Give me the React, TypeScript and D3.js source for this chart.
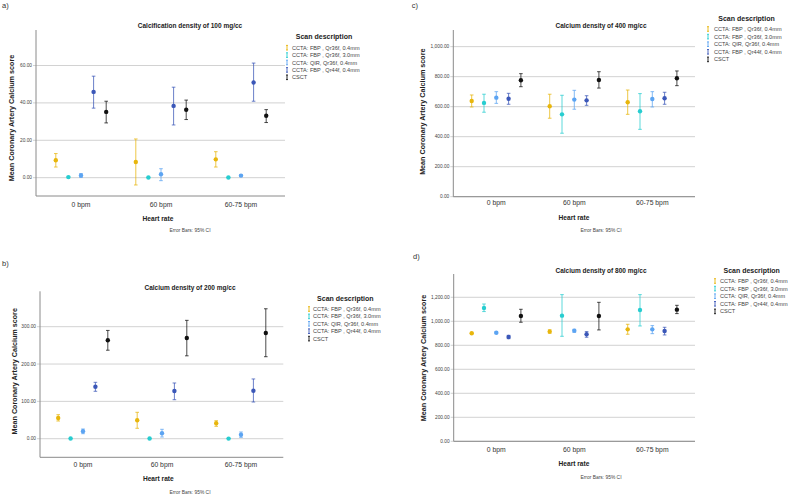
import React from "react";
import * as d3 from "d3";

const categories = ["0 bpm", "60 bpm", "60-75 bpm"];
const seriesNames = [
  "CCTA: FBP , Qr36f, 0.4mm",
  "CCTA: FBP , Qr36f, 3.0mm",
  "CCTA: QIR, Qr36f, 0.4mm",
  "CCTA: FBP , Qr44f, 0.4mm",
  "CSCT",
];
const seriesColors = ["#e8b60c", "#27cdd0", "#5ca4f2", "#3b57b8", "#111111"];

// Panel a: 100 mg/cc  [series][category]
const mean100 = [[9.3, 8.4, 9.8], [0.3, 0.1, 0.1], [1.2, 1.8, 1.1], [45.9, 38.4, 50.9], [35.2, 36.3, 33.1]];
const low100 = [[5.7, -3.9, 5.7], [0.0, 0.0, 0.0], [0.2, -1.6, 0.6], [37.2, 28.2, 40.9], [29.3, 31.1, 29.5]];
const high100 = [[12.9, 20.7, 13.9], [0.5, 0.3, 0.3], [2.2, 4.8, 1.6], [54.3, 48.4, 61.3], [40.9, 41.5, 36.4]];
const ticks100 = [0, 20, 40, 60];

// Panel b: 200 mg/cc
const mean200 = [[55.4, 49.3, 41.2], [0.5, 0.5, 0.3], [19.8, 14.5, 10.7], [139.3, 127.8, 128.6], [263.6, 269.8, 283]];
const low200 = [[47.4, 27.9, 33.2], [0, 0, 0], [13.4, 4.5, 3.6], [127, 104.5, 98.3], [237, 222, 219.6]];
const high200 = [[64.3, 70.7, 48.2], [1, 1, 0.6], [26, 25.2, 18], [151, 149.2, 160], [290, 317, 348]];
const ticks200 = [0, 100, 200, 300];

// Panel c: 400 mg/cc
const mean400 = [[638, 603, 629], [625, 549, 569], [660, 647, 651], [653, 642, 656], [776, 778, 789]];
const low400 = [[598, 523, 549], [563, 423, 449], [622, 583, 598], [616, 609, 616], [733, 724, 740]];
const high400 = [[678, 683, 711], [683, 676, 687], [700, 709, 700], [689, 673, 696], [820, 833, 838]];
const ticks400 = [0, 200, 400, 600, 800, 1000];

// Panel d: 800 mg/cc
const mean800 = [[900, 914, 933], [1111, 1047, 1094], [905, 922, 933], [869, 892, 919], [1044, 1044, 1097]];
const low800 = [[895, 900, 892], [1081, 875, 961], [898, 908, 897], [855, 867, 886], [992, 928, 1064]];
const high800 = [[905, 930, 975], [1144, 1222, 1222], [912, 933, 964], [883, 914, 950], [1100, 1158, 1133]];
const ticks800 = [0, 200, 400, 600, 800, 1000, 1200];

const FONT = "'Liberation Sans', Arial, sans-serif";
const fmt = d3.format(",.2f");

type Layout = {
  tag: string; tagX: number; tagY: number;
  title: string; titleX: number; titleY: number;
  left: number; right: number; top: number; bottom: number;
  domain: [number, number];
  bandLeft: number; bandRight: number; spacing: number;
  xLabY: number; hrX: number; hrY: number; ebX: number; ebY: number;
  yTitleX: number; yTitleY: number;
  legTitleX: number; legTitleY: number; legIconX: number; legTextX: number; legY0: number; legDy: number;
};

function Panel({ L, mean, low, high, ticks }: { L: Layout; mean: number[][]; low: number[][]; high: number[][]; ticks: number[] }) {
  const y = d3.scaleLinear().domain(L.domain).range([L.bottom, L.top]);
  const x = d3.scaleBand<string>().domain(categories).range([L.bandLeft, L.bandRight]);
  const inner = d3
    .scaleBand<string>()
    .domain(seriesNames)
    .range([-2.5 * L.spacing, 2.5 * L.spacing]);
  const cx = (ci: number, si: number) =>
    (x(categories[ci]) as number) + x.bandwidth() / 2 + (inner(seriesNames[si]) as number) + inner.bandwidth() / 2;
  return (
    <g>
      <text x={L.tagX} y={L.tagY} fontSize={7.5} fill="#333" dominantBaseline="central">{L.tag}</text>
      <text x={L.titleX} y={L.titleY} fontSize={6.5} fontWeight="bold" textAnchor="middle" dominantBaseline="central" fill="#222">{L.title}</text>
      {ticks.map((t) => (
        <g key={t}>
          <line x1={L.left - 3} x2={L.right} y1={y(t)} y2={y(t)} stroke="#d2d2d2" strokeWidth={1} />
          <text x={L.left - 4} y={y(t)} fontSize={4.8} textAnchor="end" dominantBaseline="central" fill="#444">{fmt(t)}</text>
        </g>
      ))}
      <line x1={L.left} x2={L.left} y1={L.top} y2={L.bottom} stroke="#8a8a8a" strokeWidth={1} />
      <line x1={L.left} x2={L.right} y1={L.bottom} y2={L.bottom} stroke="#8a8a8a" strokeWidth={1} />
      {categories.map((c) => (
        <text key={c} x={(x(c) as number) + x.bandwidth() / 2} y={L.xLabY} fontSize={6.8} textAnchor="middle" dominantBaseline="central" fill="#333">{c}</text>
      ))}
      <text x={L.hrX} y={L.hrY} fontSize={6.6} fontWeight="bold" textAnchor="middle" dominantBaseline="central" fill="#222">Heart rate</text>
      <text x={L.ebX} y={L.ebY} fontSize={4.9} textAnchor="middle" dominantBaseline="central" fill="#444">Error Bars: 95% CI</text>
      <text transform={`translate(${L.yTitleX},${L.yTitleY}) rotate(-90)`} fontSize={7.2} fontWeight="bold" textAnchor="middle" dominantBaseline="central" fill="#222">Mean Coronary Artery Calcium score</text>
      {seriesNames.map((s, si) =>
        categories.map((c, ci) => {
          const px = cx(ci, si);
          const col = seriesColors[si];
          return (
            <g key={s + c}>
              <line x1={px} x2={px} y1={y(low[si][ci])} y2={y(high[si][ci])} stroke={col} strokeWidth={1} opacity={0.75} />
              <line x1={px - 1.8} x2={px + 1.8} y1={y(low[si][ci])} y2={y(low[si][ci])} stroke={col} strokeWidth={1} opacity={0.75} />
              <line x1={px - 1.8} x2={px + 1.8} y1={y(high[si][ci])} y2={y(high[si][ci])} stroke={col} strokeWidth={1} opacity={0.75} />
              <circle cx={px} cy={y(mean[si][ci])} r={2.2} fill={col} />
            </g>
          );
        })
      )}
      <text x={L.legTitleX} y={L.legTitleY} fontSize={7} fontWeight="bold" textAnchor="middle" dominantBaseline="central" fill="#222">Scan description</text>
      {seriesNames.map((s, si) => {
        const yy = L.legY0 + si * L.legDy;
        const col = seriesColors[si];
        return (
          <g key={s}>
            <line x1={L.legIconX} x2={L.legIconX} y1={yy - 2.3} y2={yy + 2.3} stroke={col} strokeWidth={0.9} />
            <line x1={L.legIconX - 1} x2={L.legIconX + 1} y1={yy - 2.3} y2={yy - 2.3} stroke={col} strokeWidth={0.9} />
            <line x1={L.legIconX - 1} x2={L.legIconX + 1} y1={yy + 2.3} y2={yy + 2.3} stroke={col} strokeWidth={0.9} />
            <text x={L.legTextX} y={yy} fontSize={5.6} dominantBaseline="central" fill="#444">{s}</text>
          </g>
        );
      })}
    </g>
  );
}

const layoutA: Layout = {
  tag: "a)", tagX: 2, tagY: 5,
  title: "Calcification density of 100 mg/cc", titleX: 190, titleY: 25,
  left: 36, right: 285, top: 30, bottom: 196, domain: [-9.8, 79],
  bandLeft: 41, bandRight: 281, spacing: 12.6,
  xLabY: 204, hrX: 158, hrY: 218, ebX: 190, ebY: 230.7,
  yTitleX: 11.7, yTitleY: 118,
  legTitleX: 324, legTitleY: 36, legIconX: 287, legTextX: 292, legY0: 47.7, legDy: 7.4,
};
const layoutB: Layout = {
  tag: "b)", tagX: 2, tagY: 263,
  title: "Calcium density of 200 mg/cc", titleX: 190, titleY: 287,
  left: 40, right: 283.3, top: 291.3, bottom: 457.3, domain: [-49.8, 394.8],
  bandLeft: 43.5, bandRight: 280.5, spacing: 12.4,
  xLabY: 464.7, hrX: 158.3, hrY: 478, ebX: 190, ebY: 492,
  yTitleX: 14, yTitleY: 371.3,
  legTitleX: 345.3, legTitleY: 298, legIconX: 309, legTextX: 313, legY0: 309, legDy: 7.4,
};
const layoutC: Layout = {
  tag: "c)", tagX: 411.7, tagY: 5,
  title: "Calcium density of 400 mg/cc", titleX: 601, titleY: 25,
  left: 453.3, right: 695, top: 30, bottom: 196.7, domain: [0, 1111],
  bandLeft: 457.3, bandRight: 691.3, spacing: 12.3,
  xLabY: 202.3, hrX: 574, hrY: 217.3, ebX: 601, ebY: 230.7,
  yTitleX: 422.3, yTitleY: 111.7,
  legTitleX: 746.5, legTitleY: 18.3, legIconX: 708, legTextX: 714, legY0: 29, legDy: 7.6,
};
const layoutD: Layout = {
  tag: "d)", tagX: 413, tagY: 256,
  title: "Calcium density of 800 mg/cc", titleX: 601, titleY: 270.7,
  left: 453.7, right: 695, top: 274, bottom: 441.3, domain: [0, 1394],
  bandLeft: 457.3, bandRight: 691.3, spacing: 12.3,
  xLabY: 449.7, hrX: 574, hrY: 463, ebX: 601, ebY: 477.3,
  yTitleX: 423.3, yTitleY: 358,
  legTitleX: 751.7, legTitleY: 270.7, legIconX: 715, legTextX: 720, legY0: 281, legDy: 7.6,
};

export default function App() {
  return (
    <svg
      width={790}
      height={496}
      style={{ position: "absolute", left: 0, top: 0, background: "#fff", fontFamily: FONT }}
    >
      <rect x={0} y={0} width={790} height={496} fill="#fff" />
      <Panel L={layoutA} mean={mean100} low={low100} high={high100} ticks={ticks100} />
      <Panel L={layoutB} mean={mean200} low={low200} high={high200} ticks={ticks200} />
      <Panel L={layoutC} mean={mean400} low={low400} high={high400} ticks={ticks400} />
      <Panel L={layoutD} mean={mean800} low={low800} high={high800} ticks={ticks800} />
    </svg>
  );
}
